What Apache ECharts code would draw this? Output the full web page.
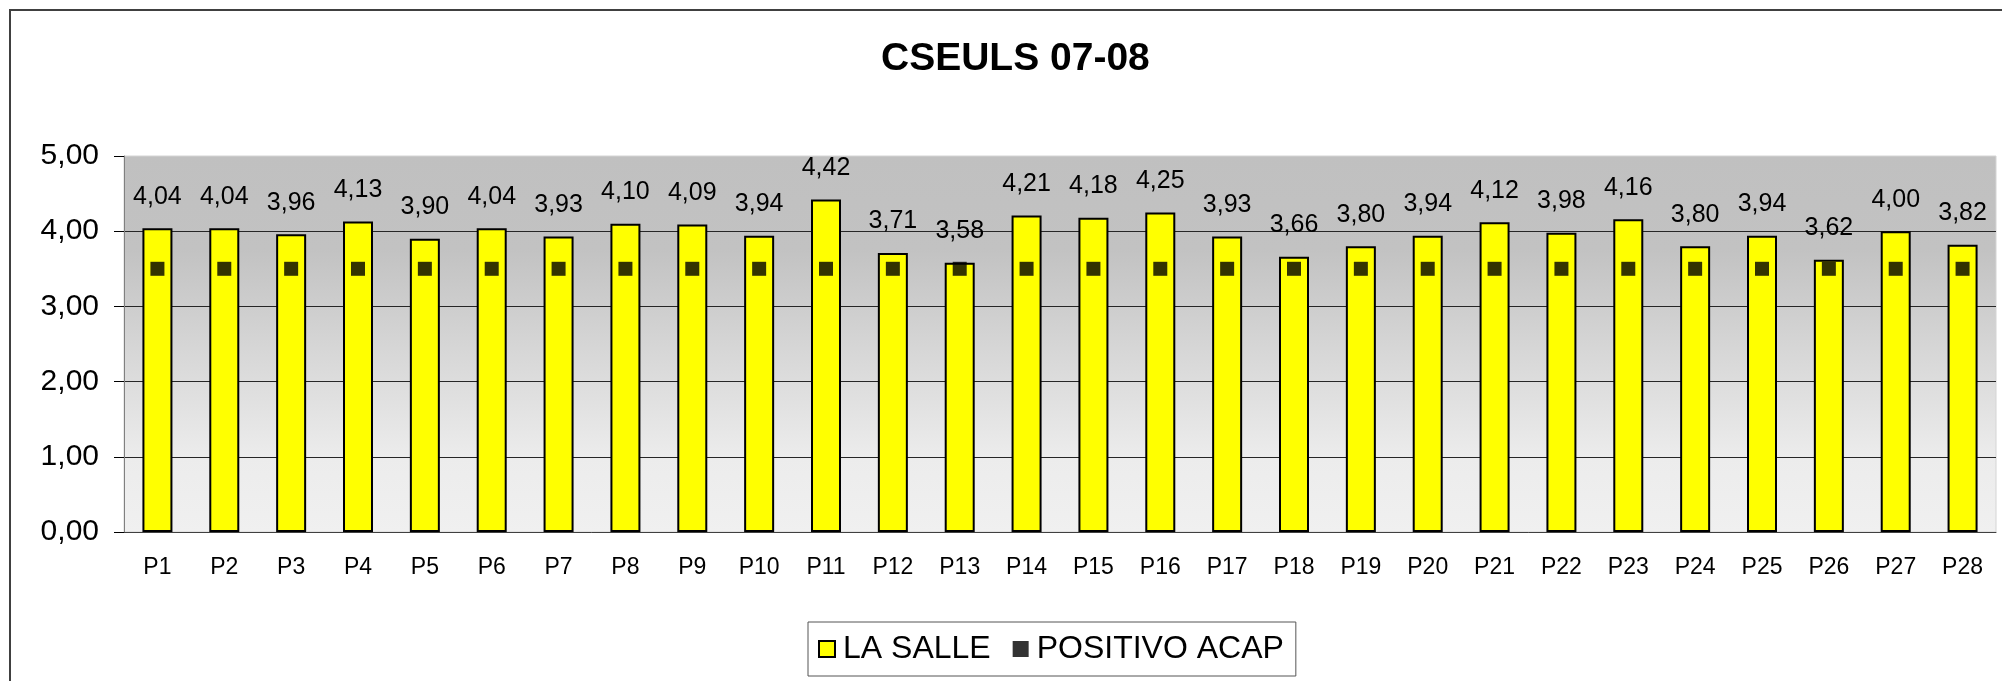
<!DOCTYPE html>
<html>
<head>
<meta charset="utf-8">
<title>CSEULS 07-08</title>
<script src="https://cdn.jsdelivr.net/npm/echarts@6/dist/echarts.min.js"></script>
<style>
	html, body { margin: 0; padding: 0; background: #fff; }
	#chart { width: 2002px; height: 681px; }
</style>
</head>
<body>
<div id="chart"></div>
<script>
var categories = ['P1', 'P2', 'P3', 'P4', 'P5', 'P6', 'P7', 'P8', 'P9', 'P10', 'P11', 'P12', 'P13', 'P14',
	'P15', 'P16', 'P17', 'P18', 'P19', 'P20', 'P21', 'P22', 'P23', 'P24', 'P25', 'P26', 'P27', 'P28'];
var laSalle = [4.04, 4.04, 3.96, 4.13, 3.90, 4.04, 3.93, 4.10, 4.09, 3.94, 4.42, 3.71, 3.58, 4.21,
	4.18, 4.25, 3.93, 3.66, 3.80, 3.94, 4.12, 3.98, 4.16, 3.80, 3.94, 3.62, 4.00, 3.82];
var positivoAcap = [3.5, 3.5, 3.5, 3.5, 3.5, 3.5, 3.5, 3.5, 3.5, 3.5, 3.5, 3.5, 3.5, 3.5,
	3.5, 3.5, 3.5, 3.5, 3.5, 3.5, 3.5, 3.5, 3.5, 3.5, 3.5, 3.5, 3.5, 3.5];
var yTickLabels = ['0,00', '1,00', '2,00', '3,00', '4,00', '5,00'];

var font = 'Liberation Sans, Arial, sans-serif';
// numero con coma decimal
var fmt = function(v) {
	return v.toFixed(2).replace('.', ',');
};

var option = {
	animation: false,
	backgroundColor: '#fff',
	title: {
		text: 'CSEULS 07-08',
		left: 881,
		top: 40,
		padding: 0,
		textStyle: {
			fontFamily: font,
			fontSize: 39,
			fontWeight: 'bold',
			color: '#000'
		}
	},
	graphic: [{
		type: 'rect',
		shape: { x: 10, y: 10, width: 2100, height: 900 },
		style: { fill: 'none', stroke: '#404040', lineWidth: 2 },
		silent: true
	}],
	legend: {
		left: 808,
		top: 622,
		padding: [11, 12, 11, 10],
		borderColor: '#555',
		borderWidth: 1,
		itemWidth: 16,
		itemHeight: 16,
		itemGap: 22,
		textStyle: {
			fontFamily: font,
			fontSize: 32,
			color: '#000',
			padding: [0, 0, 0, 3]
		},
		data: [
			{ name: 'LA SALLE', icon: 'rect' },
			{ name: 'POSITIVO ACAP', icon: 'rect' }
		]
	},
	grid: {
		left: 124,
		right: 6,
		top: 156,
		bottom: 149,
		show: true,
		borderColor: '#d4d4d4',
		borderWidth: 1,
		backgroundColor: {
			type: 'linear', x: 0, y: 0, x2: 0, y2: 1,
			colorStops: [
				{ offset: 0, color: '#c0c0c0' },
				{ offset: 0.25, color: '#c2c2c2' },
				{ offset: 0.8, color: '#ececec' },
				{ offset: 1, color: '#f0f0f0' }
			]
		}
	},
	xAxis: {
		type: 'category',
		data: categories,
		axisLine: { lineStyle: { color: '#404040', width: 1 } },
		axisTick: { length: 8, lineStyle: { color: '#404040' } },
		axisLabel: {
			margin: 24,
			fontFamily: font,
			fontSize: 23,
			color: '#000'
		}
	},
	yAxis: {
		type: 'value',
		min: 0,
		max: 5,
		interval: 1,
		axisLine: { show: true, lineStyle: { color: '#808080', width: 1 } },
		axisTick: { show: true, length: 10, lineStyle: { color: '#000' } },
		axisLabel: {
			margin: 25,
			fontFamily: font,
			fontSize: 30,
			color: '#000',
			formatter: function(v) {
				return yTickLabels[Math.round(v)];
			}
		},
		splitLine: {
			show: true,
			showMinLine: false,
			showMaxLine: false,
			lineStyle: { color: '#262626', width: 1 }
		}
	},
	series: [{
		name: 'LA SALLE',
		type: 'bar',
		data: laSalle,
		barWidth: 30,
		itemStyle: {
			color: '#ffff00',
			borderColor: '#000',
			borderWidth: 2
		},
		label: {
			show: true,
			position: 'top',
			distance: 19,
			fontFamily: font,
			fontSize: 25,
			color: '#000',
			formatter: function(p) {
				return fmt(p.value);
			}
		}
	}, {
		name: 'POSITIVO ACAP',
		type: 'scatter',
		data: positivoAcap,
		symbol: 'rect',
		symbolSize: 14,
		itemStyle: { color: '#000' },
		z: 3
	}]
};

//inicializar echarts
var myChart = echarts.init(document.getElementById('chart'));
myChart.setOption(option);
</script>
</body>
</html>
